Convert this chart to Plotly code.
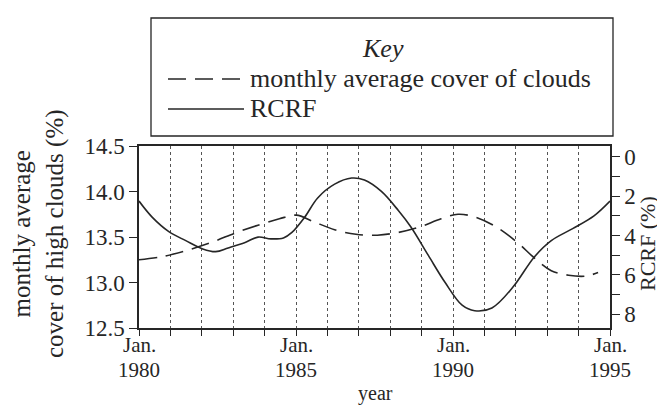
import plotly.graph_objects as go

# ---------------- data ----------------
cloud_years = [1980.00, 1980.68, 1981.49, 1982.30, 1983.11, 1983.79, 1984.47, 1985.01,
               1985.55, 1986.23, 1986.91, 1987.59, 1988.26, 1988.94, 1989.62, 1990.16,
               1990.70, 1991.38, 1992.05, 1992.59, 1993.13, 1993.68, 1994.22, 1994.62]
cloud_cover = [13.25, 13.28, 13.35, 13.44, 13.55, 13.63, 13.70, 13.74,
               13.67, 13.58, 13.53, 13.52, 13.55, 13.61, 13.70, 13.75,
               13.72, 13.61, 13.44, 13.27, 13.13, 13.08, 13.07, 13.11]

rcrf_years = [1980.00, 1980.41, 1980.95, 1981.49, 1982.03, 1982.44, 1982.84, 1983.38,
              1983.79, 1984.20, 1984.60, 1984.87, 1985.28, 1985.69, 1986.23, 1986.77,
              1987.18, 1987.72, 1988.26, 1988.66, 1989.21, 1989.75, 1990.29, 1990.69,
              1991.24, 1991.91, 1992.59, 1993.13, 1993.81, 1994.49, 1995.00]
rcrf = [2.25, 3.05, 3.80, 4.26, 4.68, 4.82, 4.63, 4.35,
        4.08, 4.17, 4.12, 3.84, 3.06, 2.09, 1.39, 1.08,
        1.18, 1.76, 2.73, 3.57, 5.00, 6.39, 7.54, 7.82,
        7.68, 6.62, 5.09, 4.26, 3.65, 3.00, 2.25]

series_names = ["monthly average cover of clouds", "RCRF"]
left_ticks = [12.5, 13.0, 13.5, 14.0, 14.5]
right_ticks = [0, 1, 2, 3, 4, 5, 6, 7, 8]
year_ticks = list(range(1980, 1996))
labelled_years = [1980, 1985, 1990, 1995]

# ---------------- layout geometry (pixels) ----------------
W, H = 665, 405
L, R, T, B = 131, 602, 138, 320

def px(x):
    return (x - L) / (R - L)

def py(y):
    return (B - y) / (B - T)

INK = "#262626"
FONT = "Liberation Serif, DejaVu Serif, serif"
DASH = "18px,9px"

fig = go.Figure()
fig.add_trace(go.Scatter(x=cloud_years, y=cloud_cover, mode="lines", line_shape="spline",
                         line=dict(color=INK, width=1.6, dash=DASH),
                         name=series_names[0], yaxis="y"))
fig.add_trace(go.Scatter(x=rcrf_years, y=rcrf, mode="lines", line_shape="spline",
                         line=dict(color=INK, width=1.6),
                         name=series_names[1], yaxis="y2"))

fig.update_layout(
    width=W, height=H,
    margin=dict(l=L, r=W - R, t=T, b=H - B),
    paper_bgcolor="white", plot_bgcolor="white",
    showlegend=False,
    font=dict(family=FONT, size=23, color=INK),
    xaxis=dict(range=[1980, 1995], tickvals=year_ticks, showticklabels=False,
               ticks="outside", ticklen=6, tickcolor=INK, tickwidth=1.2,
               showline=True, linecolor=INK, linewidth=1.5, mirror=True,
               showgrid=True, gridcolor="#555", griddash="dot", gridwidth=1,
               zeroline=False),
    yaxis=dict(range=[12.5, 14.5], tickvals=left_ticks,
               ticktext=[f"{v:.1f}" for v in left_ticks],
               ticks="outside", ticklen=8, tickcolor=INK, tickwidth=1.2,
               showline=True, linecolor=INK, linewidth=1.5,
               showgrid=False, zeroline=False, tickfont=dict(size=23)),
    yaxis2=dict(range=[8.7, -0.55], overlaying="y", side="right",
                tickvals=right_ticks,
                ticktext=[str(v) if v % 2 == 0 else "" for v in right_ticks],
                ticks="outside", ticklen=8, tickcolor=INK, tickwidth=1.2,
                showline=True, linecolor=INK, linewidth=1.5,
                showgrid=False, zeroline=False, tickfont=dict(size=23)),
)

# x tick labels (two lines, placed on the data scale)
for yr in labelled_years:
    fig.add_annotation(xref="x", yref="paper", x=yr, y=py(337), text="Jan.",
                       showarrow=False, font=dict(size=21), xanchor="center", yanchor="middle")
    fig.add_annotation(xref="x", yref="paper", x=yr, y=py(362), text=str(yr),
                       showarrow=False, font=dict(size=21), xanchor="center", yanchor="middle")

# key box
fig.add_shape(type="rect", xref="paper", yref="paper",
              x0=px(143), x1=px(605), y0=py(128), y1=py(10),
              line=dict(color=INK, width=1.3), fillcolor="rgba(0,0,0,0)")
fig.add_annotation(xref="paper", yref="paper", x=px(375), y=py(41), text="<i>Key</i>",
                   showarrow=False, font=dict(size=26), xanchor="center", yanchor="middle")
fig.add_shape(type="line", xref="paper", yref="paper", x0=px(160), x1=px(236),
              y0=py(71), y1=py(71), line=dict(color=INK, width=1.6, dash=DASH))
fig.add_annotation(xref="paper", yref="paper", x=px(240), y=py(70), text=series_names[0],
                   showarrow=False, font=dict(size=26), xanchor="left", yanchor="middle")
fig.add_shape(type="line", xref="paper", yref="paper", x0=px(160), x1=px(236),
              y0=py(101), y1=py(101), line=dict(color=INK, width=1.6))
fig.add_annotation(xref="paper", yref="paper", x=px(240), y=py(100), text=series_names[1],
                   showarrow=False, font=dict(size=26), xanchor="left", yanchor="middle")

# axis titles
fig.add_annotation(xref="paper", yref="paper", x=px(30), y=py(226),
                   text="monthly average<br>cover of high clouds (%)", textangle=-90,
                   showarrow=False, font=dict(size=25), xanchor="center", yanchor="middle")
fig.add_annotation(xref="paper", yref="paper", x=px(639), y=py(236), text="RCRF (%)",
                   textangle=-90, showarrow=False, font=dict(size=22),
                   xanchor="center", yanchor="middle")
fig.add_annotation(xref="paper", yref="paper", x=px(367), y=py(385), text="year",
                   showarrow=False, font=dict(size=20), xanchor="center", yanchor="middle")

fig.write_html("out.html")
